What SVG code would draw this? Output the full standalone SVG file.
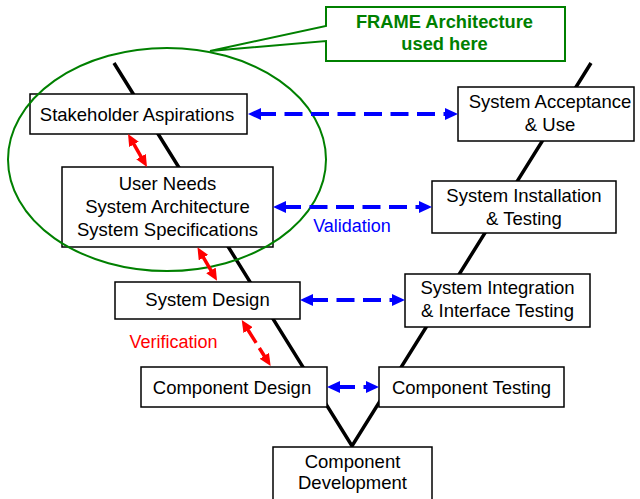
<svg xmlns="http://www.w3.org/2000/svg" width="640" height="499" viewBox="0 0 640 499">
<style>
.box{fill:#fff;stroke:#000;stroke-width:1.5}
.t{font-family:"Liberation Sans",Arial,sans-serif;font-size:18.5px;fill:#000;text-anchor:middle}
.v{fill:none;stroke:#000;stroke-width:3.5;stroke-linejoin:miter}
.blue{stroke:#0000ff;stroke-width:4;stroke-dasharray:18 8.5;fill:none;marker-start:url(#bh);marker-end:url(#bh)}
.red{stroke:#ff0000;stroke-width:3.5;fill:none;marker-start:url(#rh);marker-end:url(#rh)}
.lbl{font-family:"Liberation Sans",Arial,sans-serif;font-size:18px;text-anchor:middle}
.frame{font-family:"Liberation Sans",Arial,sans-serif;font-size:18.3px;font-weight:bold;fill:#008000;text-anchor:middle}
</style>
<defs>
<marker id="bh" markerUnits="userSpaceOnUse" markerWidth="13" markerHeight="12" refX="3" refY="6" orient="auto-start-reverse" viewBox="0 0 13 12">
<path d="M0,0 L13,6 L0,12 z" fill="#0000ff"/>
</marker>
<marker id="rh" markerUnits="userSpaceOnUse" markerWidth="12" markerHeight="11" refX="4" refY="5.5" orient="auto-start-reverse" viewBox="0 0 12 11">
<path d="M0,0 L12,5.5 L0,11 z" fill="#ff0000"/>
</marker>
</defs>
<rect width="640" height="499" fill="#fff"/>
<g id="vee">
<polyline class="v" points="114,63 352,446 591,63"/>
</g>
<g id="stakeholder"><rect class="box" x="30" y="94" width="217" height="40"/><text class="t" x="137" y="121">Stakeholder Aspirations</text></g>
<g id="acceptance"><rect class="box" x="458" y="87" width="176" height="54"/><text class="t" x="550" y="107.5">System Acceptance</text><text class="t" x="550" y="130.5">&amp; Use</text></g>
<g id="userneeds"><rect class="box" x="62" y="167" width="211" height="80"/><text class="t" x="167.5" y="189.5">User Needs</text><text class="t" x="167.5" y="212.5">System Architecture</text><text class="t" x="167.5" y="235.5">System Specifications</text></g>
<g id="installation"><rect class="box" x="432" y="181" width="184" height="52"/><text class="t" x="524" y="201.5">System Installation</text><text class="t" x="524" y="224.5">&amp; Testing</text></g>
<g id="sysdesign"><rect class="box" x="115" y="282" width="185" height="37"/><text class="t" x="207.5" y="306">System Design</text></g>
<g id="integration"><rect class="box" x="405" y="274" width="185" height="53"/><text class="t" x="497.5" y="293.5">System Integration</text><text class="t" x="497.5" y="316.5">&amp; Interface Testing</text></g>
<g id="compdesign"><rect class="box" x="141" y="367" width="186" height="40"/><text class="t" x="232" y="393.5">Component Design</text></g>
<g id="comptesting"><rect class="box" x="379" y="367" width="185" height="40"/><text class="t" x="471.5" y="393.5">Component Testing</text></g>
<g id="compdev"><rect class="box" x="273" y="447" width="159" height="60"/><text class="t" x="352.5" y="467.5">Component</text><text class="t" x="352.5" y="489">Development</text></g>
<g id="frame-scope">
<ellipse cx="167" cy="159.5" rx="159" ry="111.5" fill="none" stroke="#008000" stroke-width="2"/>
</g>
<g id="frame-callout">
<polygon points="326,7 565,7 565,61 326,61 326,41 210,51 326,26" fill="#fff" stroke="#008000" stroke-width="2"/>
<text class="frame" x="444.5" y="27.5">FRAME Architecture</text>
<text class="frame" x="444.5" y="50">used here</text>
</g>
<g id="connectors">
<line class="blue" x1="258" y1="114" x2="448" y2="114"/>
<line class="blue" x1="283" y1="207" x2="422" y2="207"/>
<line class="blue" x1="310" y1="300" x2="395" y2="300"/>
<line class="blue" x1="337" y1="387" x2="369" y2="387"/>
<line class="red" x1="132" y1="140.9" x2="143" y2="160.1"/>
<line class="red" x1="201.5" y1="254.2" x2="213" y2="273.8"/>
<line class="red" x1="246" y1="326.8" x2="266.4" y2="359.2" style="stroke-dasharray:19 6"/>
<text class="lbl" x="352" y="232" fill="#0000ff">Validation</text>
<text class="lbl" x="173.5" y="347.5" fill="#ff0000">Verification</text>
</g>
</svg>
